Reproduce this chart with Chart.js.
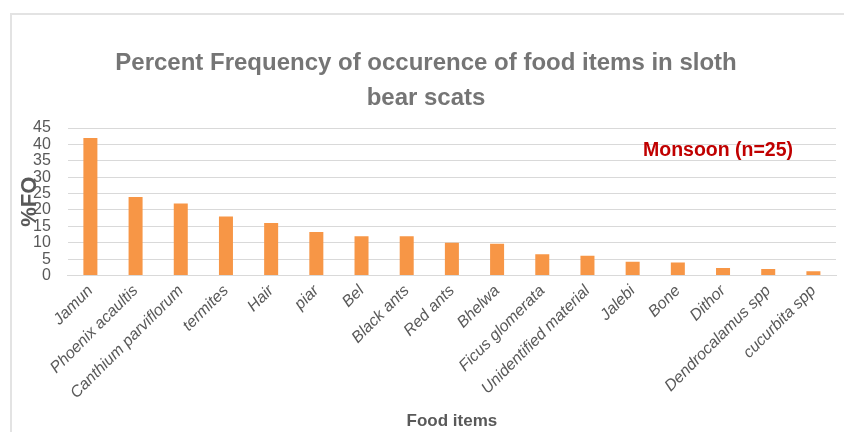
<!DOCTYPE html>
<html>
<head>
<meta charset="utf-8">
<script src="https://cdn.jsdelivr.net/npm/chart.js@4"></script>
<style>
  html, body { margin: 0; padding: 0; background: #ffffff; overflow: hidden; }
  #wrap { position: relative; width: 844px; height: 432px; }
</style>
</head>
<body>
<div id="wrap"><canvas id="grafico" width="844" height="432"></canvas></div>
<script>
// Datos
const alimentos = [
    'Jamun', 'Phoenix acaultis', 'Canthium parviflorum', 'termites', 'Hair',
    'piar', 'Bel', 'Black ants', 'Red ants', 'Bhelwa', 'Ficus glomerata',
    'Unidentified material', 'Jalebi', 'Bone', 'Dithor', 'Dendrocalamus spp',
    'cucurbita spp'
];
const porcentajeFO = [42, 24, 22, 18, 16, 13.3, 12, 12, 10, 9.7, 6.5, 6, 4.2, 4, 2.3, 2, 1.3];
const titulo = ['Percent Frequency of occurence of food items in sloth', 'bear scats'];
const etiquetaTemporada = 'Monsoon (n=25)';

const grisTexto = '#595959';

// marco + textos extra
const extras = {
    id: 'extras',
    beforeDraw(chart) {
        const ctx = chart.ctx;
        ctx.save();
        ctx.fillStyle = '#ffffff';
        ctx.fillRect(0, 0, chart.width, chart.height);
        ctx.strokeStyle = '#e3e3e3';
        ctx.lineWidth = 2;
        ctx.strokeRect(11, 14, 900, 500);
        ctx.restore();
    },
    afterDraw(chart) {
        const ctx = chart.ctx;
        const area = chart.chartArea;
        ctx.save();
        // etiqueta eje Y
        ctx.translate(area.left - 38, (area.top + area.bottom) / 2);
        ctx.rotate(-Math.PI / 2);
        ctx.font = 'bold 22px "Liberation Sans"';
        ctx.fillStyle = grisTexto;
        ctx.textAlign = 'center';
        ctx.textBaseline = 'middle';
        ctx.fillText('%FO', 0, 0);
        ctx.restore();

        ctx.save();
        ctx.font = 'bold 19.5px "Liberation Sans"';
        ctx.fillStyle = '#c00000';
        ctx.textAlign = 'left';
        ctx.textBaseline = 'middle';
        ctx.fillText(etiquetaTemporada, 643, 151);
        ctx.restore();
    }
};

new Chart(document.getElementById('grafico').getContext('2d'), {
    type: 'bar',
    data: {
        labels: alimentos,
        datasets: [{
            label: '%FO',
            data: porcentajeFO,
            backgroundColor: '#f79646',
            borderWidth: 0,
            barPercentage: 0.31,
            categoryPercentage: 1
        }]
    },
    options: {
        responsive: false,
        animation: false,
        layout: { padding: { left: 16, right: 8, top: 0, bottom: 0 } },
        plugins: {
            legend: { display: false },
            tooltip: { enabled: false },
            title: {
                display: true,
                text: titulo,
                color: '#757575',
                font: { family: '"Liberation Sans"', size: 24, weight: 'bold', lineHeight: 1.46 },
                padding: { top: 46, bottom: 12 }
            }
        },
        scales: {
            x: {
                afterFit(scale) {
                    // etiquetas rotadas invaden el margen como en Excel
                    scale.paddingLeft = 0;
                    scale.paddingRight = 0;
                },
                grid: { display: false, drawTicks: false },
                border: { display: true, color: '#d9d9d9', width: 1 },
                ticks: {
                    color: grisTexto,
                    font: { family: '"Liberation Sans"', size: 16, style: 'italic' },
                    minRotation: 45,
                    maxRotation: 45,
                    autoSkip: false,
                    padding: 6
                },
                title: {
                    display: true,
                    text: 'Food items',
                    color: grisTexto,
                    font: { family: '"Liberation Sans"', size: 17, weight: 'bold' },
                    padding: { top: 3, bottom: 0 }
                }
            },
            y: {
                min: 0,
                max: 45,
                grid: { color: '#d9d9d9', lineWidth: 1, drawTicks: false },
                border: { display: false },
                ticks: {
                    stepSize: 5,
                    autoSkip: false,
                    color: grisTexto,
                    font: { family: '"Liberation Sans"', size: 16 },
                    padding: 17
                }
            }
        }
    },
    plugins: [extras]
});
</script>
</body>
</html>
